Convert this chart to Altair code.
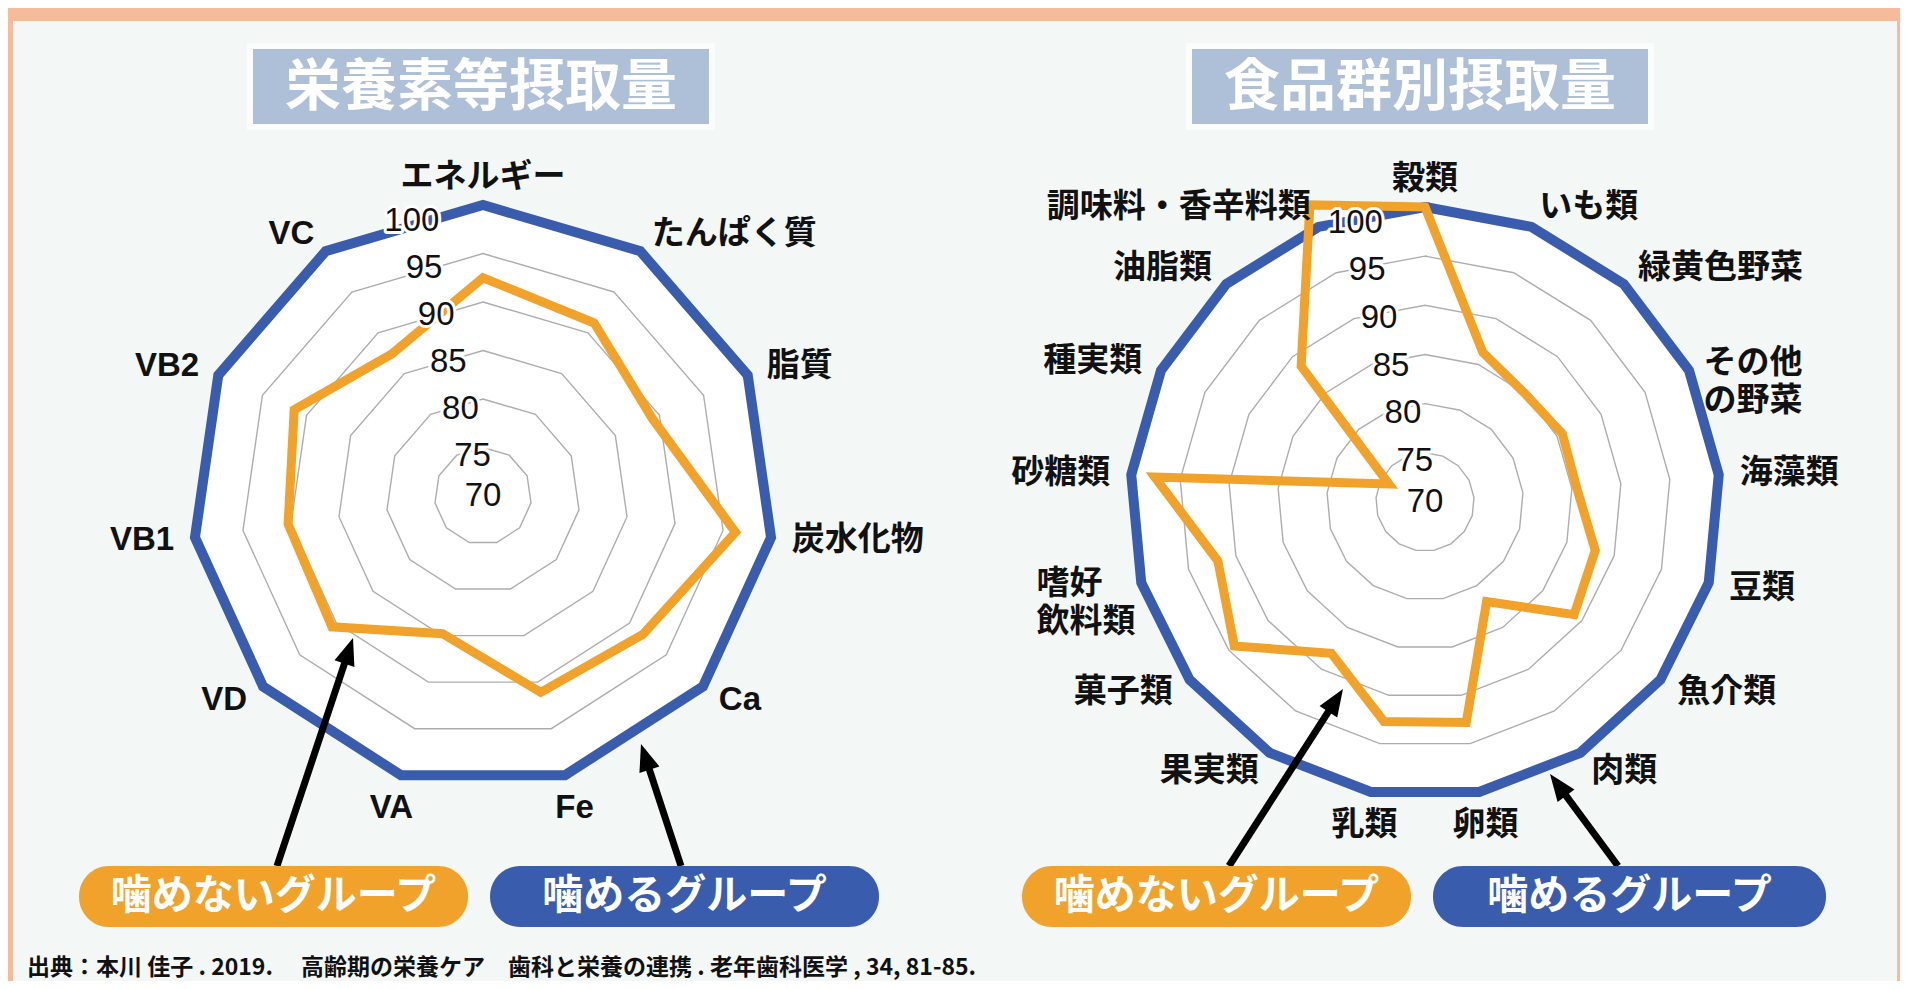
import math
import altair as alt
import pandas as pd

# ---------------- data ----------------
nutrient_axes = ["エネルギー", "たんぱく質", "脂質", "炭水化物", "Ca", "Fe", "VA", "VD", "VB1", "VB2", "VC"]
nutrient_cannot_chew = [92.5, 91.2, 89.2, 96.3, 91.8, 91.1, 84.8, 90.6, 90.3, 91.4, 87.4]
nutrient_can_chew = [100, 100, 100, 100, 100, 100, 100, 100, 100, 100, 100]

food_axes = ["穀類", "いも類", "緑黄色野菜", "その他\nの野菜", "海藻類", "豆類", "魚介類", "肉類", "卵類",
             "乳類", "果実類", "菓子類", "嗜好\n飲料類", "砂糖類", "種実類", "油脂類", "調味料・香辛料類"]
food_cannot_chew = [100.0, 86.3, 85.0, 85.6, 85.5, 88.0, 89.0, 81.9, 92.8, 92.7, 88.1, 94.3, 91.9, 97.6, 74.1, 88.7, 102.4]
food_can_chew = [100, 100, 100, 100, 100, 100, 100, 100, 100, 100, 100, 100, 100, 100, 100, 100, 100]

scale_ticks = [70, 75, 80, 85, 90, 95, 100]
panel_titles = ["栄養素等摂取量", "食品群別摂取量"]
group_names = ["噛めないグループ", "噛めるグループ"]
source_note = "出典：本川 佳子 . 2019.　 高齢期の栄養ケア　歯科と栄養の連携 . 老年歯科医学 , 34, 81-85."

# ---------------- layout / style ----------------
PAGE_W, PAGE_H, MARGIN = 1908, 989, 8
CW, CH = PAGE_W - 2 * MARGIN, PAGE_H - 2 * MARGIN
VMIN, VMAX = 70, 100
RADARS = [
    dict(cx=483, cy=496, R=291, tick_angle=-14.5),
    dict(cx=1425, cy=502, R=295, tick_angle=-14.0),
]
BANNERS = [(253, 49, 709, 124), (1192, 49, 1648, 124)]
PILLS = [[(79, 866, 468, 927), (490, 866, 879, 927)],
         [(1022, 866, 1411, 927), (1433, 866, 1826, 927)]]
ARROWS = [(277, 866, 353, 638), (681, 866, 641, 744), (1229, 866, 1343, 689), (1618, 866, 1550, 774)]
HEAD_SCALE = 15.0
ARROW_PATH = "M0,-1.25L-0.7,0.55L0.7,0.55Z"
LABEL_SIZE = 33

PEACH = "#F6BB9B"
PANEL = "#F3F7F5"
BANNER = "#AEBFD8"
BLUE = "#3A5CAD"
ORANGE = "#F1A22B"
GRAY = "#ADADAD"
INK = "#111111"
FONT = "Liberation Sans, Noto Sans CJK JP"
CJK = "Noto Sans CJK JP"

XS = alt.Scale(domain=[MARGIN, PAGE_W - MARGIN], nice=False, zero=False)
YS = alt.Scale(domain=[MARGIN, PAGE_H - MARGIN], nice=False, zero=False, reverse=True)


def X(f="x"):
    return alt.X(f"{f}:Q", scale=XS, axis=None)


def Y(f="y"):
    return alt.Y(f"{f}:Q", scale=YS, axis=None)


def polar(cx, cy, r, ang):
    a = math.radians(ang)
    return cx + r * math.sin(a), cy - r * math.cos(a)


def radius(v, R):
    return (v - VMIN) / (VMAX - VMIN) * R


# ---------------- build tables ----------------
charts = [(nutrient_axes, nutrient_cannot_chew, nutrient_can_chew),
          (food_axes, food_cannot_chew, food_can_chew)]

poly_rows, ring_rows, tick_rows, lab_rows = [], [], [], []
for ci, (axes, cannot, can) in enumerate(charts):
    g = RADARS[ci]
    n = len(axes)
    for series, vals in (("can", can), ("cannot", cannot)):
        for k in range(n + 2):
            v = vals[k % n]
            x, y = polar(g["cx"], g["cy"], radius(v, g["R"]), 360.0 * k / n)
            poly_rows.append(dict(key=f"{ci}-{series}", series=series, idx=k, x=x, y=y))
    for t in scale_ticks[1:-1]:
        for k in range(n + 2):
            x, y = polar(g["cx"], g["cy"], radius(t, g["R"]), 360.0 * k / n)
            ring_rows.append(dict(key=f"{ci}-{t}", idx=k, x=x, y=y))
    for t in scale_ticks:
        r = max(radius(t, g["R"]) - 7, 0)
        x, y = polar(g["cx"], g["cy"], r, g["tick_angle"])
        tick_rows.append(dict(x=x, y=y, label=str(t)))
    for k, name in enumerate(axes):
        ang = 360.0 * k / n
        s, c = math.sin(math.radians(ang)), math.cos(math.radians(ang))
        multi = "\n" in name
        if s > 0.3:
            al, off = "left", (16 if multi else 21)
        elif s < -0.3:
            al, off = "right", (6 if multi else 21)
        else:
            al, off = "center", (28 if c > 0 else 34)
        x, y = polar(g["cx"], g["cy"], g["R"] + off, ang)
        if multi and al == "right":
            # block right-anchored, lines left-aligned inside it
            x -= max(len(line) for line in name.split("\n")) * LABEL_SIZE
            al = "left"
        lab_rows.append(dict(x=x, y=y, label=name, align=al))

poly = pd.DataFrame(poly_rows)
rings = pd.DataFrame(ring_rows)
ticks = pd.DataFrame(tick_rows)
labs = pd.DataFrame(lab_rows)

banner_df = pd.DataFrame([dict(x=b[0], x2=b[2], y=b[1], y2=b[3], cxm=(b[0] + b[2]) / 2, cym=(b[1] + b[3]) / 2 + 1,
                               label=panel_titles[i]) for i, b in enumerate(BANNERS)])
shadow_df = pd.DataFrame([dict(x=b[0] - 6, x2=b[2] + 6, y=b[1] - 6, y2=b[3] + 6) for b in BANNERS])

pill_rows = []
for ci in range(2):
    for gi in range(2):
        p = PILLS[ci][gi]
        pill_rows.append(dict(x=p[0], x2=p[2], y=p[1], y2=p[3], cxm=(p[0] + p[2]) / 2, cym=(p[1] + p[3]) / 2,
                              label=group_names[gi], grp=gi))
pills = pd.DataFrame(pill_rows)

arrow_rows = []
for (x0, y0, x1, y1) in ARROWS:
    dx, dy = x1 - x0, y1 - y0
    L = math.hypot(dx, dy)
    ux, uy = dx / L, dy / L
    back = 1.25 * HEAD_SCALE
    hx, hy = x1 - ux * back, y1 - uy * back
    ang = math.degrees(math.atan2(dx, -dy)) % 360
    arrow_rows.append(dict(x=x0, y=y0, x2=hx + ux * 4, y2=hy + uy * 4, hx=hx, hy=hy, ang=ang))
arrows = pd.DataFrame(arrow_rows)

panel_df = pd.DataFrame([dict(x=13, x2=1897, y=21, y2=PAGE_H - MARGIN)])
note_df = pd.DataFrame([dict(x=27, y=968, label=source_note)])

# ---------------- layers ----------------
panel = alt.Chart(panel_df).mark_rect(color=PANEL).encode(x=X(), x2="x2:Q", y=Y(), y2="y2:Q")
shadow = alt.Chart(shadow_df).mark_rect(color="#FBFDFD").encode(x=X(), x2="x2:Q", y=Y(), y2="y2:Q")
banner = alt.Chart(banner_df).mark_rect(color=BANNER).encode(x=X(), x2="x2:Q", y=Y(), y2="y2:Q")
banner_txt = alt.Chart(banner_df).mark_text(font=CJK, fontSize=56, fontWeight="bold", color="white",
                                            align="center", baseline="middle").encode(
    x=X("cxm"), y=Y("cym"), text="label:N")

blue_poly = alt.Chart(poly[poly.series == "can"]).mark_line(
    fill="white", stroke=BLUE, strokeWidth=10, strokeJoin="miter").encode(
    x=X(), y=Y(), detail="key:N", order="idx:Q")
ring_lines = alt.Chart(rings).mark_line(stroke=GRAY, strokeWidth=1.4).encode(
    x=X(), y=Y(), detail="key:N", order="idx:Q")
orange_poly = alt.Chart(poly[poly.series == "cannot"]).mark_line(
    stroke=ORANGE, strokeWidth=9, strokeJoin="miter").encode(
    x=X(), y=Y(), detail="key:N", order="idx:Q")

tick_halo = alt.Chart(ticks).mark_text(font=FONT, fontSize=33, color="white", stroke="white", strokeWidth=6,
                                       strokeJoin="round", align="center", baseline="middle").encode(
    x=X(), y=Y(), text="label:N")
tick_txt = alt.Chart(ticks).mark_text(font=FONT, fontSize=33, color=INK, align="center", baseline="middle").encode(
    x=X(), y=Y(), text="label:N")

lab_layers = []
for al in ("left", "right", "center"):
    sub = labs[labs["align"] == al]
    if len(sub) == 0:
        continue
    lab_layers.append(alt.Chart(sub).mark_text(font=FONT, fontSize=LABEL_SIZE, fontWeight="bold", color=INK,
                                               align=al, baseline="middle", lineBreak="\n",
                                               lineHeight=38).encode(
        x=X(), y=Y(), text="label:N"))

arrow_lines = alt.Chart(arrows).mark_rule(color="black", strokeWidth=7).encode(
    x=X(), y=Y(), x2="x2:Q", y2="y2:Q")
arrow_heads = alt.Chart(arrows).mark_point(shape=ARROW_PATH, filled=True, color="black", opacity=1,
                                           size=(2 * HEAD_SCALE) ** 2, strokeWidth=0).encode(
    x=X("hx"), y=Y("hy"), angle=alt.Angle("ang:Q", scale=None))

pill_rect = alt.Chart(pills).mark_rect(cornerRadius=30).encode(
    x=X(), x2="x2:Q", y=Y(), y2="y2:Q",
    color=alt.Color("grp:N", scale=alt.Scale(domain=[0, 1], range=[ORANGE, BLUE]), legend=None))
pill_txt = alt.Chart(pills).mark_text(font=CJK, fontSize=41, fontWeight="bold", color="white",
                                      align="center", baseline="middle").encode(
    x=X("cxm"), y=Y("cym"), text="label:N")

note = alt.Chart(note_df).mark_text(font=CJK, fontSize=23, fontWeight="bold", color=INK,
                                    align="left", baseline="middle").encode(x=X(), y=Y(), text="label:N")

chart = alt.layer(
    panel, shadow, banner, banner_txt,
    blue_poly, ring_lines, orange_poly,
    tick_halo, tick_txt, *lab_layers,
    arrow_lines, arrow_heads, pill_rect, pill_txt, note,
).properties(
    width=CW, height=CH, background=PEACH, padding=0, autosize="none"
).configure_view(stroke=None)

chart.save("out.html", embed_options={"renderer": "svg", "actions": False})
